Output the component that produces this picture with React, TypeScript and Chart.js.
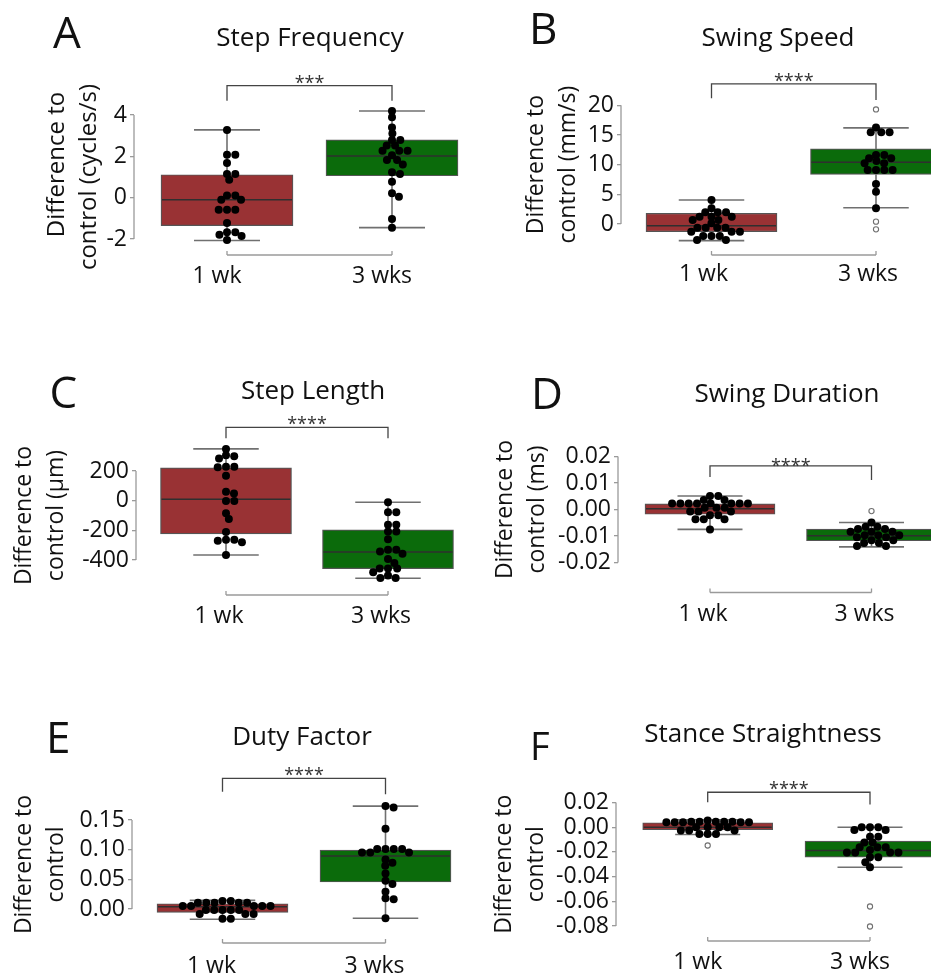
import React, { useEffect, useRef } from "react";
import { Chart, registerables } from "chart.js";

Chart.register(...registerables);

const FONT = "'Open Sans', 'DejaVu Sans', sans-serif";
const RED = "#993234";
const GREEN = "#0b6b0b";
const BOX_LINE = "#555555";
const MEDIAN = "#2f2f2f";
const WHISKER = "#707070";
const AXIS = "#9a9a9a";
const TEXT = "#111111";

const groups = ["1 wk", "3 wks"];

// ---------- A: Step Frequency ----------
const stepFreqTicks = [-2, 0, 2, 4];
const stepFreq1wk = [3.27, 2.08, 2.08, 1.68, 1.15, 1.15, 0.87, 0.11, 0.11, -0.1, -0.1, -0.58, -0.58, -0.58, -1.22, -1.67, -1.67, -1.79, -1.86, -2.05];
const stepFreq3wk = [4.19, 3.89, 3.4, 3.11, 2.79, 2.79, 2.52, 2.52, 2.27, 2.27, 2.27, 2.05, 1.82, 1.82, 1.61, 1.23, 1.15, 0.77, 0.21, 0.05, -1.03, -1.45];
const stepFreqOut1wk: number[] = [];
const stepFreqOut3wk: number[] = [];
const stepFreqBox1wk = [-2.07, -1.35, -0.1, 1.11, 3.28]; // lo, q1, median, q3, hi
const stepFreqBox3wk = [-1.45, 1.06, 2.02, 2.8, 4.19];
const stepFreqBracket = [5.42, 4.69, 4.69];

// ---------- B: Swing Speed ----------
const swingSpeedTicks = [0, 5, 10, 15, 20];
const swingSpeed1wk = [4.05, 2.64, 1.97, 1.97, 1.97, 1.24, 1.24, 1.24, 0.67, 0.67, 0.11, -0.62, -0.62, -0.62, -0.62, -1.3, -1.3, -1.3, -2.02, -2.02, -2.02, -2.7, -2.7];
const swingSpeed3wk = [16.24, 15.46, 15.46, 15.46, 11.64, 11.64, 11.08, 11.08, 10.62, 10.23, 10.23, 9.1, 9.1, 9.1, 9.1, 6.75, 5.45, 2.64];
const swingSpeedOut1wk: number[] = [];
const swingSpeedOut3wk = [19.3, 0.4, -0.9];
const swingSpeedBox1wk = [-2.8, -1.3, -0.3, 1.8, 4.05];
const swingSpeedBox3wk = [2.75, 8.37, 10.4, 12.65, 16.2];
const swingSpeedBracket = [23.6, 21.2, 20.9];

// ---------- C: Step Length ----------
const stepLenTicks = [-400, -200, 0, 200];
const stepLen1wk = [349, 306, 300, 284, 228, 228, 225, 168, 60, 49, -2, -2, -85, -123, -212, -264, -264, -270, -280, -367];
const stepLen3wk = [-11, -78, -78, -163, -163, -208, -208, -260, -331, -331, -342, -358, -394, -420, -458, -458, -458, -483, -505, -521, -521];
const stepLenOut1wk: number[] = [];
const stepLenOut3wk: number[] = [];
const stepLenBox1wk = [-366, -224, 9, 221, 349];
const stepLenBox3wk = [-523, -458, -346, -197, -11];
const stepLenBracket = [494, 420, 420];

// ---------- D: Swing Duration ----------
const swingDurTicks = [-0.02, -0.01, 0, 0.01, 0.02];
const swingDur1wk = [0.0051, 0.0051, 0.0036, 0.0036, 0.0023, 0.0023, 0.0023, 0.0023, 0.0023, 0.0023, 0.0023, 0.0023, 0.0007, 0.0007, 0.0007, -0.0008, -0.0008, -0.0008, -0.0022, -0.0022, -0.0037, -0.0037, -0.0037, -0.0075];
const swingDur3wk = [-0.0049, -0.0065, -0.0065, -0.0074, -0.0074, -0.0084, -0.0084, -0.0084, -0.0097, -0.0097, -0.0097, -0.0105, -0.0105, -0.0116, -0.0116, -0.0126, -0.0126, -0.0138, -0.0138];
const swingDurOut1wk: number[] = [];
const swingDurOut3wk = [-0.0006];
const swingDurBox1wk = [-0.0075, -0.0018, 0.0003, 0.0021, 0.0051];
const swingDurBox3wk = [-0.0141, -0.0118, -0.0099, -0.0074, -0.0049];
const swingDurBracket = [0.0165, 0.0123, 0.0111];

// ---------- E: Duty Factor ----------
const dutyTicks = [0, 0.05, 0.1, 0.15];
const duty1wk = [0.0135, 0.0135, 0.0107, 0.0107, 0.0107, 0.0107, 0.0107, 0.005, 0.005, 0.005, 0.005, 0.005, -0.0017, -0.0017, -0.0017, -0.0017, -0.0017, -0.0084, -0.0084, -0.0084, -0.0163, -0.0163];
const duty3wk = [0.1734, 0.1711, 0.1352, 0.101, 0.101, 0.101, 0.101, 0.0954, 0.0954, 0.0954, 0.0836, 0.078, 0.0729, 0.06, 0.0477, 0.0421, 0.0292, 0.018, 0.0163, -0.0157];
const dutyOut1wk: number[] = [];
const dutyOut3wk: number[] = [];
const dutyBox1wk = [-0.0174, -0.0056, 0.004, 0.0089, 0.0146];
const dutyBox3wk = [-0.0157, 0.0455, 0.0892, 0.0993, 0.1734];
const dutyBracket = [0.22, 0.1975, 0.1936];

// ---------- F: Stance Straightness ----------
const straightTicks = [-0.08, -0.06, -0.04, -0.02, 0, 0.02];
const straight1wk = [0.0054, 0.0044, 0.0044, 0.0044, 0.0044, 0.0044, 0.004, 0.004, 0.004, 0.004, 0.004, 0.0, 0.0, 0.0, 0.0, -0.0027, -0.0027, -0.0027, -0.0055, -0.0055, -0.0055];
const straight3wk = [0, 0, 0, -0.0023, -0.0023, -0.0077, -0.0077, -0.0123, -0.0123, -0.0163, -0.0163, -0.0163, -0.0185, -0.0204, -0.0204, -0.0204, -0.0204, -0.0243, -0.0243, -0.0283, -0.0324];
const straightOut1wk = [-0.0148];
const straightOut3wk = [-0.0642, -0.0804];
const straightBox1wk = [-0.0059, -0.0021, 0.0, 0.0036, 0.006];
const straightBox3wk = [-0.0324, -0.0243, -0.0189, -0.0113, 0.0];
const straightBracket = [0.0283, 0.0202, 0.0184];

type Layout = {
  left: number; top: number; w: number; h: number;
  axisX: number; tickTopPx: number; tickBotPx: number; ext: number;
  c0: number; c1: number; boxW: number;
  xLineOff: number; labelCapOff: number; labelOffset: number;
  titlePad: number; titleSize: number; starsDy: number;
  letterX: number; letterY: number; letterSize: number; titleCX: number; titleY: number;
};

type Panel = {
  letter: string; title: string; yTitle: string[];
  ticks: number[]; decimals: number;
  pts: number[][]; outliers: number[][]; boxes: number[][];
  bracket: number[]; stars: string; layout: Layout;
};

const panels: Panel[] = [
  {
    letter: "A", title: "Step Frequency", yTitle: ["    Difference to", "control (cycles/s)"],
    ticks: stepFreqTicks, decimals: 0,
    pts: [stepFreq1wk, stepFreq3wk], outliers: [stepFreqOut1wk, stepFreqOut3wk],
    boxes: [stepFreqBox1wk, stepFreqBox3wk], bracket: stepFreqBracket, stars: "***",
    layout: { left: 0, top: 0, w: 470, h: 300, axisX: 134, tickTopPx: 115, tickBotPx: 239, ext: 20, c0: 227, c1: 392, boxW: 132,
      xLineOff: 16, labelCapOff: 28, labelOffset: -10, titlePad: 41, titleSize: 24, starsDy: 3,
      letterX: 53, letterY: 9, letterSize: 44, titleCX: 310, titleY: 22.5 },
  },
  {
    letter: "B", title: "Swing Speed", yTitle: ["Difference to", "control (mm/s)"],
    ticks: swingSpeedTicks, decimals: 0,
    pts: [swingSpeed1wk, swingSpeed3wk], outliers: [swingSpeedOut1wk, swingSpeedOut3wk],
    boxes: [swingSpeedBox1wk, swingSpeedBox3wk], bracket: swingSpeedBracket, stars: "****",
    layout: { left: 470, top: 0, w: 490, h: 300, axisX: 621, tickTopPx: 105.3, tickBotPx: 224, ext: 30, c0: 711.5, c1: 876, boxW: 131,
      xLineOff: 31, labelCapOff: 41, labelOffset: -8, titlePad: 50, titleSize: 23, starsDy: 3,
      letterX: 529, letterY: 5, letterSize: 44, titleCX: 778, titleY: 22.5 },
  },
  {
    letter: "C", title: "Step Length", yTitle: ["Difference to", "control (\u03bcm)"],
    ticks: stepLenTicks, decimals: 0,
    pts: [stepLen1wk, stepLen3wk], outliers: [stepLenOut1wk, stepLenOut3wk],
    boxes: [stepLenBox1wk, stepLenBox3wk], bracket: stepLenBracket, stars: "****",
    layout: { left: 0, top: 330, w: 470, h: 310, axisX: 136, tickTopPx: 471, tickBotPx: 560, ext: 32, c0: 226, c1: 388, boxW: 131,
      xLineOff: 35, labelCapOff: 47, labelOffset: -7, titlePad: 8, titleSize: 23, starsDy: 3,
      letterX: 49.5, letterY: 369, letterSize: 44, titleCX: 313, titleY: 375.5 },
  },
  {
    letter: "D", title: "Swing Duration", yTitle: ["Difference to", "control (ms)"],
    ticks: swingDurTicks, decimals: 2,
    pts: [swingDur1wk, swingDur3wk], outliers: [swingDurOut1wk, swingDurOut3wk],
    boxes: [swingDurBox1wk, swingDurBox3wk], bracket: swingDurBracket, stars: "****",
    layout: { left: 470, top: 330, w: 490, h: 310, axisX: 618, tickTopPx: 456.5, tickBotPx: 562.5, ext: 25, c0: 710, c1: 871.5, boxW: 130,
      xLineOff: 30, labelCapOff: 42.5, labelOffset: -7, titlePad: 19, titleSize: 23, starsDy: 6,
      letterX: 531, letterY: 370, letterSize: 44, titleCX: 787, titleY: 378.5 },
  },
  {
    letter: "E", title: "Duty Factor", yTitle: ["Difference to", "control"],
    ticks: dutyTicks, decimals: 2,
    pts: [duty1wk, duty3wk], outliers: [dutyOut1wk, dutyOut3wk],
    boxes: [dutyBox1wk, dutyBox3wk], bracket: dutyBracket, stars: "****",
    layout: { left: 0, top: 690, w: 470, h: 284, axisX: 132, tickTopPx: 820, tickBotPx: 909, ext: 28, c0: 222.5, c1: 385.5, boxW: 131,
      xLineOff: 34, labelCapOff: 47.7, labelOffset: -11, titlePad: 8, titleSize: 23, starsDy: 3,
      letterX: 46, letterY: 714, letterSize: 44, titleCX: 302, titleY: 722 },
  },
  {
    letter: "F", title: "Stance Straightness", yTitle: ["Difference to", "control"],
    ticks: straightTicks, decimals: 2,
    pts: [straight1wk, straight3wk], outliers: [straightOut1wk, straightOut3wk],
    boxes: [straightBox1wk, straightBox3wk], bracket: straightBracket, stars: "****",
    layout: { left: 470, top: 690, w: 490, h: 284, axisX: 616, tickTopPx: 802.5, tickBotPx: 926, ext: 18, c0: 707.7, c1: 870, boxW: 130,
      xLineOff: 15, labelCapOff: 27, labelOffset: -10, titlePad: 18, titleSize: 23, starsDy: 3,
      letterX: 530, letterY: 725.5, letterSize: 38, titleCX: 763, titleY: 718.5 },
  },
];

const DOT_R = 4;
const SWARM_DX = 8.3; // horizontal spacing of dots in a row
const SWARM_DY = 6; // vertical reach within which dots push each other sideways

// beeswarm placement in pixel space with an elliptical exclusion zone
function swarmOffsets(ys: number[]): number[] {
  const order = ys.map((_, i) => i).sort((a, b) => ys[a] - ys[b]);
  const placed: { x: number; y: number }[] = [];
  const offs = new Array(ys.length).fill(0);
  const hits = (c: number, y: number) =>
    placed.some((p) => ((p.x - c) / SWARM_DX) ** 2 + ((p.y - y) / SWARM_DY) ** 2 < 0.999);
  for (const i of order) {
    const y = ys[i];
    const cands = [0];
    for (const p of placed) {
      const dy = Math.abs(p.y - y);
      if (dy < SWARM_DY) {
        const dx = SWARM_DX * Math.sqrt(1 - (dy / SWARM_DY) ** 2);
        cands.push(p.x + dx, p.x - dx);
      }
    }
    cands.sort((a, b) => Math.abs(a) - Math.abs(b) || b - a);
    for (const c of cands) {
      if (!hits(c, y)) {
        offs[i] = c;
        placed.push({ x: c, y });
        break;
      }
    }
  }
  return offs;
}

function buildConfig(p: Panel): any {
  const L = p.layout;
  const E = L.ext;
  const tMin = Math.min(...p.ticks);
  const tMax = Math.max(...p.ticks);
  const pxPerUnit = (L.tickBotPx - L.tickTopPx) / (tMax - tMin);
  const yMin = tMin - E / pxPerUnit;
  const yMax = tMax + E / pxPerUnit;
  const padTop = L.tickTopPx - L.top - E;
  const localBot = L.tickBotPx - L.top + E;
  const xH = L.h - localBot;
  const yW = L.axisX - L.left;
  const unit = L.c1 - L.c0;
  const xMin = -(L.c0 - L.axisX) / unit;
  const xMax = 1 + (L.left + L.w - L.c1) / unit;
  const labelPad = L.labelCapOff - E - 4;

  const line = (ctx: CanvasRenderingContext2D, x1: number, y1: number, x2: number, y2: number) => {
    ctx.beginPath();
    ctx.moveTo(x1, y1);
    ctx.lineTo(x2, y2);
    ctx.stroke();
  };

  const swarmPlugin = {
    id: "swarm",
    afterDatasetsUpdate(chart: any) {
      const xs = chart.scales.x;
      chart.data.datasets.forEach((ds: any, di: number) => {
        if (ds.swarmGroup === undefined) return;
        const meta = chart.getDatasetMeta(di);
        const els = meta.data;
        const ys = els.map((e: any) => e.y);
        const offs = swarmOffsets(ys);
        const cx = xs.getPixelForValue(ds.swarmGroup);
        els.forEach((e: any, k: number) => { e.x = cx + offs[k]; });
      });
    },
  };

  const boxPlugin = {
    id: "boxWhiskers",
    afterDatasetDraw(chart: any, args: any) {
      if (args.meta.type !== "bar") return;
      const { ctx } = chart;
      const xs = chart.scales.x;
      const ysc = chart.scales.y;
      const Y = (v: number) => ysc.getPixelForValue(v);
      p.boxes.forEach((b, i) => {
        const [lo, q1, med, q3, hi] = b;
        const cx = xs.getPixelForValue(i);
        const hw = L.boxW / 2;
        const cw = L.boxW / 4;
        ctx.save();
        ctx.strokeStyle = WHISKER;
        ctx.lineWidth = 1.6;
        line(ctx, cx, Y(q3), cx, Y(hi));
        line(ctx, cx, Y(q1), cx, Y(lo));
        line(ctx, cx - cw, Y(hi), cx + cw, Y(hi));
        line(ctx, cx - cw, Y(lo), cx + cw, Y(lo));
        ctx.strokeStyle = MEDIAN;
        ctx.lineWidth = 1.5;
        line(ctx, cx - hw + 1, Y(med), cx + hw - 1, Y(med));
        ctx.restore();
      });
    },
  };

  const decorPlugin = {
    id: "decor",
    afterDraw(chart: any) {
      const { ctx, chartArea } = chart;
      const xs = chart.scales.x;
      const ysc = chart.scales.y;
      const Y = (v: number) => ysc.getPixelForValue(v);
      ctx.save();
      // y axis line spanning the tick range
      ctx.strokeStyle = AXIS;
      ctx.lineWidth = 1.3;
      line(ctx, chartArea.left, Y(tMax), chartArea.left, Y(tMin));
      // x axis line spanning the two groups
      const x0 = xs.getPixelForValue(0);
      const x1 = xs.getPixelForValue(1);
      const yl = Y(tMin) + L.xLineOff;
      line(ctx, x0, yl, x1, yl);
      line(ctx, x0, yl, x0, yl - 4);
      line(ctx, x1, yl, x1, yl - 4);
      // significance bracket
      const [by, l0, l1] = p.bracket;
      ctx.strokeStyle = "#444444";
      ctx.lineWidth = 1.3;
      ctx.beginPath();
      ctx.moveTo(x0, Y(l0));
      ctx.lineTo(x0, Y(by));
      ctx.lineTo(x1, Y(by));
      ctx.lineTo(x1, Y(l1));
      ctx.stroke();
      ctx.fillStyle = "#333333";
      ctx.font = `18px ${FONT}`;
      ctx.textAlign = "center";
      ctx.textBaseline = "alphabetic";
      ctx.fillText(p.stars, (x0 + x1) / 2, Y(by) + L.starsDy);
      ctx.restore();
    },
  };

  const datasets: any[] = [
    {
      type: "bar",
      label: "IQR",
      data: p.boxes.map((b, i) => ({ x: i, y: [b[1], b[3]] })),
      backgroundColor: [RED, GREEN],
      borderColor: BOX_LINE,
      borderWidth: 1.2,
      borderSkipped: false,
      barThickness: L.boxW,
      clip: false,
      order: 3,
    },
  ];
  p.pts.forEach((vals, g) => {
    datasets.push({
      type: "scatter",
      label: groups[g],
      swarmGroup: g,
      data: vals.map((v) => ({ x: g, y: v })),
      pointRadius: DOT_R,
      pointBackgroundColor: "#000000",
      pointBorderWidth: 0,
      clip: false,
      order: 1,
    });
  });
  p.outliers.forEach((vals, g) => {
    if (!vals.length) return;
    datasets.push({
      type: "scatter",
      label: groups[g] + " outliers",
      data: vals.map((v) => ({ x: g, y: v })),
      pointRadius: 2.6,
      pointBackgroundColor: "#ffffff",
      pointBorderColor: "#707070",
      pointBorderWidth: 1.1,
      clip: false,
      order: 0,
    });
  });

  return {
    type: "scatter",
    data: { datasets },
    plugins: [swarmPlugin, boxPlugin, decorPlugin],
    options: {
      animation: false,
      responsive: false,
      devicePixelRatio: 1,
      events: [],
      layout: { autoPadding: false, padding: { top: padTop, left: 0, right: 0, bottom: 0 } },
      plugins: { legend: { display: false }, tooltip: { enabled: false }, title: { display: false } },
      scales: {
        x: {
          type: "linear",
          min: xMin,
          max: xMax,
          offset: false,
          afterFit: (s: any) => { s.height = xH; },
          afterBuildTicks: (s: any) => { s.ticks = groups.map((_, i) => ({ value: i })); },
          grid: { display: false, drawTicks: false },
          border: { display: false },
          ticks: {
            autoSkip: false,
            maxRotation: 0,
            padding: labelPad,
            labelOffset: L.labelOffset,
            color: TEXT,
            font: { family: FONT, size: 23 },
            callback: (v: any) => groups[Math.round(Number(v))] ?? "",
          },
        },
        y: {
          type: "linear",
          min: yMin,
          max: yMax,
          afterFit: (s: any) => { s.width = yW; },
          afterBuildTicks: (s: any) => { s.ticks = p.ticks.map((v) => ({ value: v })); },
          grid: { display: true, drawOnChartArea: false, drawTicks: true, tickLength: 4, color: AXIS, lineWidth: 1.3 },
          border: { display: false },
          ticks: {
            padding: 3,
            color: TEXT,
            font: { family: FONT, size: 23 },
            callback: (v: any) => Number(v).toFixed(p.decimals),
          },
          title: {
            display: true,
            text: p.yTitle,
            color: TEXT,
            align: "center",
            padding: { top: L.titlePad, bottom: 0 },
            font: { family: FONT, size: L.titleSize, lineHeight: 32 / L.titleSize },
          },
        },
      },
    },
  };
}

function PanelChart({ panel }: { panel: Panel }) {
  const ref = useRef<HTMLCanvasElement | null>(null);
  const L = panel.layout;
  useEffect(() => {
    if (!ref.current) return;
    const chart = new Chart(ref.current, buildConfig(panel));
    return () => chart.destroy();
  }, [panel]);
  return (
    <>
      <canvas
        ref={ref}
        width={L.w}
        height={L.h}
        style={{ position: "absolute", left: L.left, top: L.top, width: L.w, height: L.h }}
      />
      <div
        style={{
          position: "absolute", left: L.letterX, top: L.letterY, fontSize: L.letterSize, lineHeight: `${L.letterSize}px`,
          fontFamily: FONT, color: TEXT, whiteSpace: "nowrap",
        }}
      >
        {panel.letter}
      </div>
      <div
        style={{
          position: "absolute", left: L.titleCX - 200, width: 400, top: L.titleY, fontSize: 26, lineHeight: "26px",
          fontFamily: FONT, color: TEXT, textAlign: "center", whiteSpace: "nowrap",
        }}
      >
        {panel.title}
      </div>
    </>
  );
}

export default function App() {
  return (
    <div
      style={{
        position: "fixed", left: 0, top: 0, width: 931, height: 974, overflow: "hidden", background: "#ffffff",
      }}
    >
      {panels.map((p) => (
        <PanelChart key={p.letter} panel={p} />
      ))}
    </div>
  );
}
